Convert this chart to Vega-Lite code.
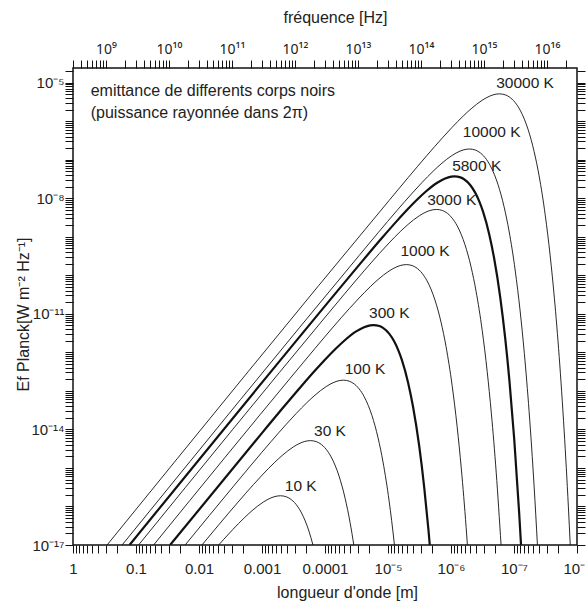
{
  "$schema": "https://vega.github.io/schema/vega-lite/v6.json",
  "width": 504,
  "height": 477,
  "autosize": {"type": "none"},
  "padding": {"left": 73, "top": 68, "right": 9, "bottom": 58},
  "background": "white",
  "config": {
    "view": {"stroke": "#111", "strokeWidth": 1.5},
    "font": "Liberation Sans",
    "axis": {"grid": false, "domain": false, "labelFont": "Liberation Sans", "titleFont": "Liberation Sans", "labelColor": "#222", "titleColor": "#222", "tickColor": "#111", "tickWidth": 1, "tickSize": 8, "labelFontSize": 15, "titleFontSize": 16, "titleFontWeight": "normal", "labelFlush": false, "labelOverlap": false, "labelBound": false}
  },
  "datasets": {
    "curves": [
      {"T":10,"lam":0.0048722,"E":1e-17},{"T":10,"lam":0.00411079,"E":1.3647e-17},{"T":10,"lam":0.00287755,"E":2.5703e-17},{"T":10,"lam":0.00191837,"E":5.0381e-17},{"T":10,"lam":0.00143878,"E":7.7632e-17},{"T":10,"lam":0.000959185,"E":1.29306e-16},{"T":10,"lam":0.000719389,"E":1.67026e-16},{"T":10,"lam":0.000575511,"E":1.86386e-16},{"T":10,"lam":0.000510205,"E":1.89609e-16},{"T":10,"lam":0.000411079,"E":1.78083e-16},{"T":10,"lam":0.000359694,"E":1.5928e-16},{"T":10,"lam":0.000287755,"E":1.1311e-16},{"T":10,"lam":0.000239796,"E":7.1597e-17},{"T":10,"lam":0.00020554,"E":4.176e-17},{"T":10,"lam":0.000179847,"E":2.2919e-17},{"T":10,"lam":0.000155181,"E":1e-17},
      {"T":30,"lam":0.0089806,"E":1e-17},{"T":30,"lam":0.00479593,"E":3.4244e-17},{"T":30,"lam":0.00239796,"E":1.30137e-16},{"T":30,"lam":0.00137026,"E":3.6848e-16},{"T":30,"lam":0.000959183,"E":6.9399e-16},{"T":30,"lam":0.000639457,"E":1.36029e-15},{"T":30,"lam":0.000479593,"E":2.09606e-15},{"T":30,"lam":0.000319728,"E":3.49125e-15},{"T":30,"lam":0.000239796,"E":4.50971e-15},{"T":30,"lam":0.000191837,"E":5.03241e-15},{"T":30,"lam":0.000170068,"E":5.11943e-15},{"T":30,"lam":0.000137026,"E":4.80825e-15},{"T":30,"lam":0.000119898,"E":4.30056e-15},{"T":30,"lam":9.59183e-5,"E":3.05398e-15},{"T":30,"lam":7.9932e-5,"E":1.93312e-15},{"T":30,"lam":6.85133e-5,"E":1.12752e-15},{"T":30,"lam":5.9949e-5,"E":6.1883e-16},{"T":30,"lam":4.79593e-5,"E":1.6352e-16},{"T":30,"lam":3.9966e-5,"E":3.8238e-17},{"T":30,"lam":3.48807e-5,"E":1e-17},
      {"T":100,"lam":0.016581,"E":1e-17},{"T":100,"lam":0.00287755,"E":3.2521e-16},{"T":100,"lam":0.00143878,"E":1.2683e-15},{"T":100,"lam":0.000719389,"E":4.8199e-15},{"T":100,"lam":0.000411079,"E":1.36474e-14},{"T":100,"lam":0.000287755,"E":2.5703e-14},{"T":100,"lam":0.000191837,"E":5.0381e-14},{"T":100,"lam":0.000143878,"E":7.7632e-14},{"T":100,"lam":9.59185e-5,"E":1.29306e-13},{"T":100,"lam":7.19389e-5,"E":1.67026e-13},{"T":100,"lam":5.75511e-5,"E":1.86386e-13},{"T":100,"lam":5.10205e-5,"E":1.89609e-13},{"T":100,"lam":4.11079e-5,"E":1.78083e-13},{"T":100,"lam":3.59694e-5,"E":1.5928e-13},{"T":100,"lam":2.87755e-5,"E":1.1311e-13},{"T":100,"lam":2.39796e-5,"E":7.1597e-14},{"T":100,"lam":2.0554e-5,"E":4.176e-14},{"T":100,"lam":1.79847e-5,"E":2.2919e-14},{"T":100,"lam":1.43878e-5,"E":6.0563e-15},{"T":100,"lam":1.19898e-5,"E":1.4162e-15},{"T":100,"lam":9.59185e-6,"E":1.37717e-16},{"T":100,"lam":7.99321e-6,"E":1.18482e-17},{"T":100,"lam":7.90403e-6,"E":1e-17},
      {"T":300,"lam":0.028771,"E":1e-17},{"T":300,"lam":0.000959183,"E":8.7807e-15},{"T":300,"lam":0.000479593,"E":3.4244e-14},{"T":300,"lam":0.000239796,"E":1.30137e-13},{"T":300,"lam":0.000137026,"E":3.6848e-13},{"T":300,"lam":9.59183e-5,"E":6.9399e-13},{"T":300,"lam":6.39457e-5,"E":1.36029e-12},{"T":300,"lam":4.79593e-5,"E":2.09606e-12},{"T":300,"lam":3.19728e-5,"E":3.49125e-12},{"T":300,"lam":2.39796e-5,"E":4.50971e-12},{"T":300,"lam":1.91837e-5,"E":5.03241e-12},{"T":300,"lam":1.70068e-5,"E":5.11943e-12},{"T":300,"lam":1.37026e-5,"E":4.80825e-12},{"T":300,"lam":1.19898e-5,"E":4.30056e-12},{"T":300,"lam":9.59183e-6,"E":3.05398e-12},{"T":300,"lam":7.9932e-6,"E":1.93312e-12},{"T":300,"lam":6.85133e-6,"E":1.12752e-12},{"T":300,"lam":5.9949e-6,"E":6.1883e-13},{"T":300,"lam":4.79593e-6,"E":1.6352e-13},{"T":300,"lam":3.9966e-6,"E":3.8238e-14},{"T":300,"lam":3.19728e-6,"E":3.71837e-15},{"T":300,"lam":2.6644e-6,"E":3.19902e-16},{"T":300,"lam":2.28377e-6,"E":2.52912e-17},{"T":300,"lam":2.17227e-6,"E":1e-17},
      {"T":1000,"lam":0.0525481,"E":1e-17},{"T":1000,"lam":0.000287755,"E":3.2521e-13},{"T":1000,"lam":0.000143878,"E":1.2683e-12},{"T":1000,"lam":7.19389e-5,"E":4.8199e-12},{"T":1000,"lam":4.11079e-5,"E":1.36474e-11},{"T":1000,"lam":2.87755e-5,"E":2.5703e-11},{"T":1000,"lam":1.91837e-5,"E":5.0381e-11},{"T":1000,"lam":1.43878e-5,"E":7.7632e-11},{"T":1000,"lam":9.59185e-6,"E":1.29306e-10},{"T":1000,"lam":7.19389e-6,"E":1.67026e-10},{"T":1000,"lam":5.75511e-6,"E":1.86386e-10},{"T":1000,"lam":5.10205e-6,"E":1.89609e-10},{"T":1000,"lam":4.11079e-6,"E":1.78083e-10},{"T":1000,"lam":3.59694e-6,"E":1.5928e-10},{"T":1000,"lam":2.87755e-6,"E":1.1311e-10},{"T":1000,"lam":2.39796e-6,"E":7.1597e-11},{"T":1000,"lam":2.0554e-6,"E":4.176e-11},{"T":1000,"lam":1.79847e-6,"E":2.2919e-11},{"T":1000,"lam":1.43878e-6,"E":6.0563e-12},{"T":1000,"lam":1.19898e-6,"E":1.4162e-12},{"T":1000,"lam":9.59185e-7,"E":1.37717e-13},{"T":1000,"lam":7.99321e-7,"E":1.18482e-14},{"T":1000,"lam":6.85132e-7,"E":9.3671e-16},{"T":1000,"lam":5.75511e-7,"E":2.89462e-17},{"T":1000,"lam":5.49075e-7,"E":1e-17},
      {"T":3000,"lam":0.0910159,"E":1e-17},{"T":3000,"lam":9.59183e-5,"E":8.7807e-12},{"T":3000,"lam":4.79593e-5,"E":3.4244e-11},{"T":3000,"lam":2.39796e-5,"E":1.30137e-10},{"T":3000,"lam":1.37026e-5,"E":3.6848e-10},{"T":3000,"lam":9.59183e-6,"E":6.9399e-10},{"T":3000,"lam":6.39457e-6,"E":1.36029e-9},{"T":3000,"lam":4.79593e-6,"E":2.09606e-9},{"T":3000,"lam":3.19728e-6,"E":3.49125e-9},{"T":3000,"lam":2.39796e-6,"E":4.50971e-9},{"T":3000,"lam":1.91837e-6,"E":5.03241e-9},{"T":3000,"lam":1.70068e-6,"E":5.11943e-9},{"T":3000,"lam":1.37026e-6,"E":4.80825e-9},{"T":3000,"lam":1.19898e-6,"E":4.30056e-9},{"T":3000,"lam":9.59183e-7,"E":3.05398e-9},{"T":3000,"lam":7.9932e-7,"E":1.93312e-9},{"T":3000,"lam":6.85133e-7,"E":1.12752e-9},{"T":3000,"lam":5.9949e-7,"E":6.1883e-10},{"T":3000,"lam":4.79593e-7,"E":1.6352e-10},{"T":3000,"lam":3.9966e-7,"E":3.8238e-11},{"T":3000,"lam":3.19728e-7,"E":3.71837e-12},{"T":3000,"lam":2.6644e-7,"E":3.19902e-13},{"T":3000,"lam":2.28377e-7,"E":2.52912e-14},{"T":3000,"lam":1.91837e-7,"E":7.81548e-16},{"T":3000,"lam":1.60425e-7,"E":1e-17},
      {"T":5800,"lam":0.126553,"E":1e-17},{"T":5800,"lam":4.96129e-5,"E":6.3453e-11},{"T":5800,"lam":2.48066e-5,"E":2.4746e-10},{"T":5800,"lam":1.24033e-5,"E":9.4042e-10},{"T":5800,"lam":7.08757e-6,"E":2.66277e-9},{"T":5800,"lam":4.96129e-6,"E":5.015e-9},{"T":5800,"lam":3.30753e-6,"E":9.83e-9},{"T":5800,"lam":2.48066e-6,"E":1.51469e-8},{"T":5800,"lam":1.65377e-6,"E":2.52291e-8},{"T":5800,"lam":1.24033e-6,"E":3.25888e-8},{"T":5800,"lam":9.9226e-7,"E":3.63661e-8},{"T":5800,"lam":8.79664e-7,"E":3.69949e-8},{"T":5800,"lam":7.08757e-7,"E":3.47462e-8},{"T":5800,"lam":6.20162e-7,"E":3.10775e-8},{"T":5800,"lam":4.96129e-7,"E":2.20692e-8},{"T":5800,"lam":4.13441e-7,"E":1.39695e-8},{"T":5800,"lam":3.54379e-7,"E":8.1479e-9},{"T":5800,"lam":3.10081e-7,"E":4.4719e-9},{"T":5800,"lam":2.48066e-7,"E":1.18166e-9},{"T":5800,"lam":2.06721e-7,"E":2.7632e-10},{"T":5800,"lam":1.65377e-7,"E":2.68703e-11},{"T":5800,"lam":1.37814e-7,"E":2.31173e-12},{"T":5800,"lam":1.18126e-7,"E":1.82763e-13},{"T":5800,"lam":9.9226e-8,"E":5.64776e-15},{"T":5800,"lam":8.26883e-8,"E":6.57586e-17},{"T":5800,"lam":7.73152e-8,"E":1e-17},
      {"T":10000,"lam":0.166172,"E":1e-17},{"T":10000,"lam":2.87755e-5,"E":3.2521e-10},{"T":10000,"lam":1.43878e-5,"E":1.2683e-9},{"T":10000,"lam":7.19389e-6,"E":4.8199e-9},{"T":10000,"lam":4.11079e-6,"E":1.36474e-8},{"T":10000,"lam":2.87755e-6,"E":2.5703e-8},{"T":10000,"lam":1.91837e-6,"E":5.0381e-8},{"T":10000,"lam":1.43878e-6,"E":7.7632e-8},{"T":10000,"lam":9.59185e-7,"E":1.29306e-7},{"T":10000,"lam":7.19389e-7,"E":1.67026e-7},{"T":10000,"lam":5.75511e-7,"E":1.86386e-7},{"T":10000,"lam":5.10205e-7,"E":1.89609e-7},{"T":10000,"lam":4.11079e-7,"E":1.78083e-7},{"T":10000,"lam":3.59694e-7,"E":1.5928e-7},{"T":10000,"lam":2.87755e-7,"E":1.1311e-7},{"T":10000,"lam":2.39796e-7,"E":7.1597e-8},{"T":10000,"lam":2.0554e-7,"E":4.176e-8},{"T":10000,"lam":1.79847e-7,"E":2.2919e-8},{"T":10000,"lam":1.43878e-7,"E":6.0563e-9},{"T":10000,"lam":1.19898e-7,"E":1.4162e-9},{"T":10000,"lam":9.59185e-8,"E":1.37717e-10},{"T":10000,"lam":7.99321e-8,"E":1.18482e-11},{"T":10000,"lam":6.85132e-8,"E":9.3671e-13},{"T":10000,"lam":5.75511e-8,"E":2.89462e-14},{"T":10000,"lam":4.79592e-8,"E":3.3703e-16},{"T":10000,"lam":4.24636e-8,"E":1e-17},
      {"T":30000,"lam":0.287818,"E":1e-17},{"T":30000,"lam":9.59183e-6,"E":8.7807e-9},{"T":30000,"lam":4.79593e-6,"E":3.4244e-8},{"T":30000,"lam":2.39796e-6,"E":1.30137e-7},{"T":30000,"lam":1.37026e-6,"E":3.6848e-7},{"T":30000,"lam":9.59183e-7,"E":6.9399e-7},{"T":30000,"lam":6.39457e-7,"E":1.36029e-6},{"T":30000,"lam":4.79593e-7,"E":2.09606e-6},{"T":30000,"lam":3.19728e-7,"E":3.49125e-6},{"T":30000,"lam":2.39796e-7,"E":4.50971e-6},{"T":30000,"lam":1.91837e-7,"E":5.03241e-6},{"T":30000,"lam":1.70068e-7,"E":5.11943e-6},{"T":30000,"lam":1.37026e-7,"E":4.80825e-6},{"T":30000,"lam":1.19898e-7,"E":4.30056e-6},{"T":30000,"lam":9.59183e-8,"E":3.05398e-6},{"T":30000,"lam":7.9932e-8,"E":1.93312e-6},{"T":30000,"lam":6.85133e-8,"E":1.12752e-6},{"T":30000,"lam":5.9949e-8,"E":6.1883e-7},{"T":30000,"lam":4.79593e-8,"E":1.6352e-7},{"T":30000,"lam":3.9966e-8,"E":3.8238e-8},{"T":30000,"lam":3.19728e-8,"E":3.71837e-9},{"T":30000,"lam":2.6644e-8,"E":3.19902e-10},{"T":30000,"lam":2.28377e-8,"E":2.52912e-11},{"T":30000,"lam":1.91837e-8,"E":7.81548e-13},{"T":30000,"lam":1.59864e-8,"E":9.09981e-15},{"T":30000,"lam":1.37026e-8,"E":9.73621e-17},{"T":30000,"lam":1.27955e-8,"E":1e-17}
    ],
    "notes": [
      {"label":"30000 K","lam":6.68e-8,"E":1e-5},
      {"label":"10000 K","lam":2.26e-7,"E":5.12e-7},
      {"label":"5800 K","lam":3.91e-7,"E":6.98e-8},
      {"label":"3000 K","lam":9.75e-7,"E":8.77e-9},
      {"label":"1000 K","lam":2.59e-6,"E":4.15e-10},
      {"label":"300 K","lam":9.53e-6,"E":1.04e-11},
      {"label":"100 K","lam":2.32e-5,"E":3.66e-13},
      {"label":"30 K","lam":8.33e-5,"E":9.14e-15},
      {"label":"10 K","lam":2.43e-4,"E":3.4e-16}
    ],
    "para": [
      {"text":"emittance de differents corps noirs","lam":0.5236,"E":5.94e-6},
      {"text":"(puissance rayonnée dans 2π)","lam":0.5236,"E":1.63e-6}
    ]
  },
  "resolve": {"axis": {"x": "independent", "y": "independent"}},
  "layer": [
    {
      "data": {"name": "curves"},
      "mark": {"type": "line", "clip": true, "interpolate": "monotone", "color": "#111"},
      "encoding": {
        "x": {"field": "lam", "type": "quantitative", "scale": {"type": "log", "domain": [1e-8, 1], "reverse": true},
              "axis": {"orient": "bottom", "ticks": true, "labelPadding": 15, "labelBaseline": "middle",
                       "values": [1e-8,2e-8,3e-8,4e-8,5e-8,6e-8,7e-8,8e-8,9e-8,1e-7,2e-7,3e-7,4e-7,5e-7,6e-7,7e-7,8e-7,9e-7,1e-6,2e-6,3e-6,4e-6,5e-6,6e-6,7e-6,8e-6,9e-6,1e-5,2e-5,3e-5,4e-5,5e-5,6e-5,7e-5,8e-5,9e-5,1e-4,2e-4,3e-4,4e-4,5e-4,6e-4,7e-4,8e-4,9e-4,1e-3,2e-3,3e-3,4e-3,5e-3,6e-3,7e-3,8e-3,9e-3,1e-2,2e-2,3e-2,4e-2,5e-2,6e-2,7e-2,8e-2,9e-2,0.1,0.2,0.3,0.4,0.5,0.6,0.7,0.8,0.9,1],
                       "labelExpr": "abs(log(datum.value)/LN10 - round(log(datum.value)/LN10)) < 0.001 ? ['10⁻⁸','10⁻⁷','10⁻⁶','10⁻⁵','0.0001','0.001','0.01','0.1','1'][round(log(datum.value)/LN10)+8] : ''",
                       "encode": {"ticks": {"update": {"y2": {"signal": "abs(log(datum.value)/LN10 - round(log(datum.value)/LN10)) < 0.001 ? -8 : -4"}}}},
                       "title": "longueur d'onde [m]", "titleX": 274, "titleY": 47, "titleBaseline": "middle", "titleAlign": "center", "titleAnchor": null}},
        "y": {"field": "E", "type": "quantitative", "scale": {"type": "log", "domain": [1e-17, 2.4e-5]},
              "axis": {"orient": "left", "ticks": true, "labelPadding": 1, "labelBaseline": "middle",
                       "values": [1e-17,2e-17,3e-17,4e-17,5e-17,6e-17,7e-17,8e-17,9e-17,1e-16,2e-16,3e-16,4e-16,5e-16,6e-16,7e-16,8e-16,9e-16,1e-15,2e-15,3e-15,4e-15,5e-15,6e-15,7e-15,8e-15,9e-15,1e-14,2e-14,3e-14,4e-14,5e-14,6e-14,7e-14,8e-14,9e-14,1e-13,2e-13,3e-13,4e-13,5e-13,6e-13,7e-13,8e-13,9e-13,1e-12,2e-12,3e-12,4e-12,5e-12,6e-12,7e-12,8e-12,9e-12,1e-11,2e-11,3e-11,4e-11,5e-11,6e-11,7e-11,8e-11,9e-11,1e-10,2e-10,3e-10,4e-10,5e-10,6e-10,7e-10,8e-10,9e-10,1e-9,2e-9,3e-9,4e-9,5e-9,6e-9,7e-9,8e-9,9e-9,1e-8,2e-8,3e-8,4e-8,5e-8,6e-8,7e-8,8e-8,9e-8,1e-7,2e-7,3e-7,4e-7,5e-7,6e-7,7e-7,8e-7,9e-7,1e-6,2e-6,3e-6,4e-6,5e-6,6e-6,7e-6,8e-6,9e-6,1e-5,2e-5],
                       "labelExpr": "abs(log(datum.value)/LN10 - round(log(datum.value)/LN10)) < 0.001 ? ['10⁻¹⁷','','','10⁻¹⁴','','','10⁻¹¹','','','10⁻⁸','','','10⁻⁵'][round(log(datum.value)/LN10)+17] : ''",
                       "encode": {"ticks": {"update": {"x2": {"signal": "abs(log(datum.value)/LN10 - round(log(datum.value)/LN10)) < 0.001 ? 8 : 4"}}}},
                       "title": "Ef Planck[W m⁻² Hz⁻¹]", "titleX": -50, "titleY": 246, "titleBaseline": "middle", "titleAlign": "center", "titleAngle": 270}},
        "detail": {"field": "T", "type": "nominal"},
        "order": {"field": "lam", "type": "quantitative", "sort": "descending"},
        "strokeWidth": {"condition": {"test": "datum.T == 5800 || datum.T == 300", "value": 2.2}, "value": 0.9}
      }
    },
    {
      "data": {"name": "curves"},
      "mark": {"type": "point", "opacity": 0, "size": 0},
      "encoding": {
        "x": {"field": "lam", "type": "quantitative", "scale": {"type": "log", "domain": [1e-8, 1], "reverse": true},
              "axis": {"orient": "top", "ticks": true, "labelPadding": 11, "labelBaseline": "middle", "labelFont": "Noto Sans", "labelFontSize": 14,
                       "values": [0.999308,0.749481,0.599585,0.499654,0.428275,0.374741,0.333103,0.299792458,
                                  0.149896,0.0999308,0.0749481,0.0599585,0.0499654,0.0428275,0.0374741,0.0333103,0.0299792458,
                                  0.0149896,0.00999308,0.00749481,0.00599585,0.00499654,0.00428275,0.00374741,0.00333103,0.00299792458,
                                  0.00149896,0.000999308,0.000749481,0.000599585,0.000499654,0.000428275,0.000374741,0.000333103,0.000299792458,
                                  1.49896e-4,9.99308e-5,7.49481e-5,5.99585e-5,4.99654e-5,4.28275e-5,3.74741e-5,3.33103e-5,2.99792458e-5,
                                  1.49896e-5,9.99308e-6,7.49481e-6,5.99585e-6,4.99654e-6,4.28275e-6,3.74741e-6,3.33103e-6,2.99792458e-6,
                                  1.49896e-6,9.99308e-7,7.49481e-7,5.99585e-7,4.99654e-7,4.28275e-7,3.74741e-7,3.33103e-7,2.99792458e-7,
                                  1.49896e-7,9.99308e-8,7.49481e-8,5.99585e-8,4.99654e-8,4.28275e-8,3.74741e-8,3.33103e-8,2.99792458e-8,
                                  1.49896e-8],
                       "labelExpr": "abs(log(299792458/datum.value)/LN10 - round(log(299792458/datum.value)/LN10)) < 0.001 ? ['10⁹','10¹⁰','10¹¹','10¹²','10¹³','10¹⁴','10¹⁵','10¹⁶'][round(log(299792458/datum.value)/LN10)-9] : ''",
                       "encode": {"ticks": {"update": {"y2": {"signal": "abs(log(299792458/datum.value)/LN10 - round(log(299792458/datum.value)/LN10)) < 0.001 ? 8 : 4"}}}},
                       "title": "fréquence [Hz]", "titleX": 262, "titleY": -51, "titleBaseline": "middle", "titleAlign": "center", "titleAnchor": null}},
        "y": {"field": "E", "type": "quantitative", "scale": {"type": "log", "domain": [1e-17, 2.4e-5]},
              "axis": {"orient": "right", "ticks": true, "labels": true, "labelExpr": "''", "title": null,
                       "values": [1e-17,2e-17,3e-17,4e-17,5e-17,6e-17,7e-17,8e-17,9e-17,1e-16,2e-16,3e-16,4e-16,5e-16,6e-16,7e-16,8e-16,9e-16,1e-15,2e-15,3e-15,4e-15,5e-15,6e-15,7e-15,8e-15,9e-15,1e-14,2e-14,3e-14,4e-14,5e-14,6e-14,7e-14,8e-14,9e-14,1e-13,2e-13,3e-13,4e-13,5e-13,6e-13,7e-13,8e-13,9e-13,1e-12,2e-12,3e-12,4e-12,5e-12,6e-12,7e-12,8e-12,9e-12,1e-11,2e-11,3e-11,4e-11,5e-11,6e-11,7e-11,8e-11,9e-11,1e-10,2e-10,3e-10,4e-10,5e-10,6e-10,7e-10,8e-10,9e-10,1e-9,2e-9,3e-9,4e-9,5e-9,6e-9,7e-9,8e-9,9e-9,1e-8,2e-8,3e-8,4e-8,5e-8,6e-8,7e-8,8e-8,9e-8,1e-7,2e-7,3e-7,4e-7,5e-7,6e-7,7e-7,8e-7,9e-7,1e-6,2e-6,3e-6,4e-6,5e-6,6e-6,7e-6,8e-6,9e-6,1e-5,2e-5],
                       "encode": {"ticks": {"update": {"x2": {"signal": "abs(log(datum.value)/LN10 - round(log(datum.value)/LN10)) < 0.001 ? -8 : -4"}}}}}}
      }
    },
    {
      "data": {"name": "notes"},
      "mark": {"type": "text", "align": "center", "baseline": "middle", "fontSize": 15.5, "font": "Liberation Sans", "color": "#222"},
      "encoding": {
        "x": {"field": "lam", "type": "quantitative", "scale": {"type": "log", "domain": [1e-8, 1], "reverse": true}, "axis": null},
        "y": {"field": "E", "type": "quantitative", "scale": {"type": "log", "domain": [1e-17, 2.4e-5]}, "axis": null},
        "text": {"field": "label"},
        "fontWeight": {"condition": {"test": "datum.label == '5800 K' || datum.label == '300 K'", "value": "bold"}, "value": "normal"}
      }
    },
    {
      "data": {"name": "para"},
      "mark": {"type": "text", "align": "left", "baseline": "middle", "fontSize": 16, "font": "Liberation Sans", "color": "#222"},
      "encoding": {
        "x": {"field": "lam", "type": "quantitative", "scale": {"type": "log", "domain": [1e-8, 1], "reverse": true}, "axis": null},
        "y": {"field": "E", "type": "quantitative", "scale": {"type": "log", "domain": [1e-17, 2.4e-5]}, "axis": null},
        "text": {"field": "text"}
      }
    }
  ]
}
